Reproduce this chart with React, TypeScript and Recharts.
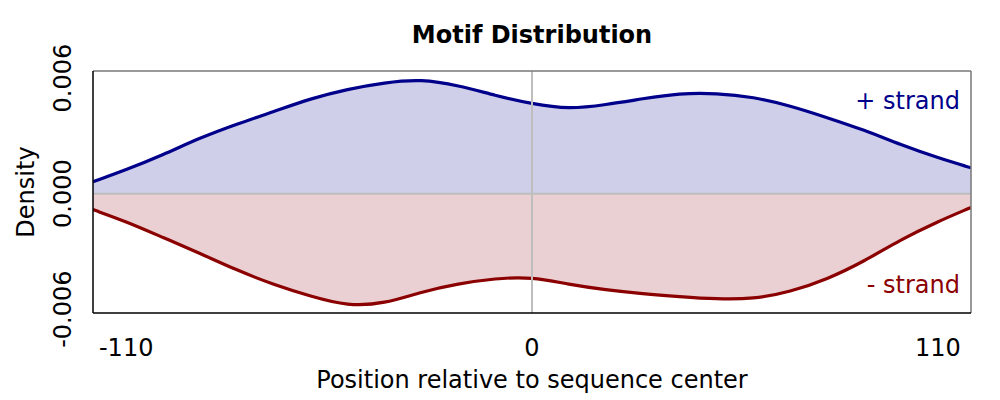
import React from "react";
import {
  ComposedChart,
  Area,
  XAxis,
  YAxis,
  ReferenceLine,
} from "recharts";

// positions relative to sequence center
const positions = [
  -119, -110, -100, -90, -80, -70, -60, -50, -40, -30, -20, -10, 0, 10, 20, 30,
  40, 50, 60, 70, 80, 90, 100, 110, 119,
];
// + strand density
const plusStrand = [
  0.00062, 0.00124, 0.00202, 0.0029, 0.00362, 0.00426, 0.00494, 0.00543,
  0.00577, 0.00595, 0.00562, 0.00510, 0.00466, 0.00438, 0.00462, 0.00493,
  0.00522, 0.00522, 0.00502, 0.00457, 0.00395, 0.00331, 0.00253, 0.00186,
  0.00134,
];
// - strand density (drawn mirrored below zero)
const minusStrand = [
  -0.00083, -0.00145, -0.00228, -0.0031, -0.00398, -0.00473, -0.00533,
  -0.00584, -0.00572, -0.00510, -0.00468, -0.0044, -0.00432, -0.00472,
  -0.00500, -0.00520, -0.00535, -0.00548, -0.00548, -0.00510, -0.00445,
  -0.00352, -0.00238, -0.00145, -0.00072,
];
const xTicks = [-110, 0, 110];
const yTicks = [-0.006, 0, 0.006];

const data = positions.map((pos, i) => ({
  pos,
  plus: plusStrand[i],
  minus: minusStrand[i],
}));

const FONT = "'DejaVu Sans', sans-serif";
const X_MIN = -119;
const X_MAX = 119;
const Y_MIN = -0.0062;
const Y_MAX = 0.00637;

const XTick = (props: any) => {
  const { x, y, payload } = props;
  return (
    <text x={x} y={y + 35} textAnchor="middle" fontSize={24} fill="#000" fontFamily={FONT}>
      {payload.value}
    </text>
  );
};

const YTick = (props: any) => {
  const { x, y, payload } = props;
  return (
    <text
      x={x - 14}
      y={y}
      textAnchor="middle"
      fontSize={24}
      fill="#000"
      fontFamily={FONT}
      transform={`rotate(-90 ${x - 14} ${y})`}
    >
      {payload.value.toFixed(3)}
    </text>
  );
};

export default function App() {
  return (
    <div
      style={{
        position: "absolute",
        left: 0,
        top: 0,
        width: 1000,
        height: 400,
        background: "#fff",
        fontFamily: FONT,
      }}
    >
      <div
        style={{
          position: "absolute",
          left: 32,
          width: 1000,
          top: 21,
          textAlign: "center",
          fontWeight: "bold",
          fontSize: 24,
        }}
      >
        Motif Distribution
      </div>
      <ComposedChart
        width={1000}
        height={400}
        data={data}
        margin={{ top: 71, right: 29, bottom: 57, left: 0 }}
      >
        <XAxis
          dataKey="pos"
          type="number"
          domain={[X_MIN, X_MAX]}
          ticks={xTicks}
          tickLine={false}
          axisLine={{ stroke: "#000", strokeWidth: 1.5 }}
          tick={<XTick />}
          height={30}
          allowDataOverflow
        />
        <YAxis
          type="number"
          domain={[Y_MIN, Y_MAX]}
          ticks={yTicks}
          tickLine={false}
          axisLine={{ stroke: "#000", strokeWidth: 1.5 }}
          tick={<YTick />}
          width={93}
          allowDataOverflow
        />
        <Area
          type="basis"
          dataKey="plus"
          stroke="#00008B"
          strokeWidth={3.2}
          fill="#cfcfea"
          fillOpacity={1}
          isAnimationActive={false}
          dot={false}
          activeDot={false}
        />
        <Area
          type="basis"
          dataKey="minus"
          stroke="#8B0000"
          strokeWidth={3.2}
          fill="#ead0d2"
          fillOpacity={1}
          isAnimationActive={false}
          dot={false}
          activeDot={false}
        />
        <ReferenceLine x={0} stroke="#bebebe" strokeWidth={2} />
        <ReferenceLine y={0} stroke="#bebebe" strokeWidth={2} />
        <ReferenceLine y={Y_MAX} stroke="#777" strokeWidth={1.5} />
        <ReferenceLine x={X_MAX} stroke="#777" strokeWidth={1.5} />
      </ComposedChart>
      <div
        style={{
          position: "absolute",
          right: 40,
          top: 87,
          fontSize: 24,
          color: "#00008B",
        }}
      >
        + strand
      </div>
      <div
        style={{
          position: "absolute",
          right: 40,
          top: 271,
          fontSize: 24,
          color: "#8B0000",
        }}
      >
        - strand
      </div>
      <div
        style={{
          position: "absolute",
          left: 93,
          width: 878,
          top: 366,
          textAlign: "center",
          fontSize: 24,
        }}
      >
        Position relative to sequence center
      </div>
      <div
        style={{
          position: "absolute",
          left: 26,
          top: 192,
          fontSize: 24,
          transform: "translate(-50%, -50%) rotate(-90deg)",
          whiteSpace: "nowrap",
        }}
      >
        Density
      </div>
    </div>
  );
}
